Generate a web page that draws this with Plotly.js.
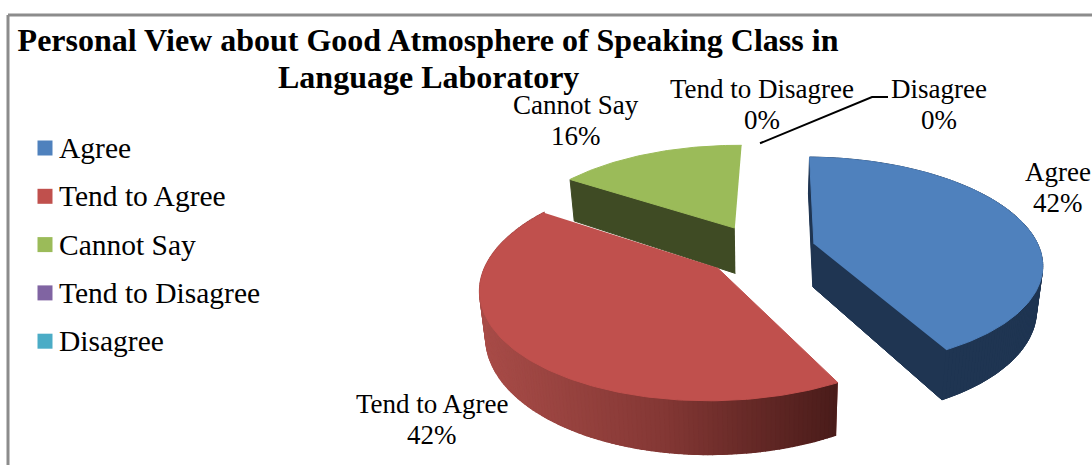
<!DOCTYPE html>
<html>
<head>
<meta charset="utf-8">
<script src="https://cdn.plot.ly/plotly-3.0.1.min.js"></script>
<style>html,body{margin:0;padding:0;background:#fff}#chart{width:1092px;height:465px}</style>
</head>
<body>
<div id="chart"></div>
<script>
// Survey responses, in percent
const categories = ["Agree", "Tend to Agree", "Cannot Say", "Tend to Disagree", "Disagree"];
const percents = [42, 42, 16, 0, 0];
const topColors = ["#4F81BD", "#C0504D", "#9BBB59", "#8064A2", "#4BACC6"];
const wallColors = ["#1F3552", "#8A3A37", "#3F4B24", "#33284A", "#1E4550"];
const wallDepths = [43, 43, 47, 43, 43];
const titleLines = ["Personal View about Good Atmosphere of Speaking Class in", "Language Laboratory"];

// Perspective pie geometry, in plot pixels
const cx = 760, horizonY = -360, baseY = 250, viewDist = 1330;
const radius = 226, explode = 56, floorShrink = 0.978, firstAngle = 1;
const serif = "Liberation Serif, Times New Roman, serif";

const rad = d => d * Math.PI / 180;

// Ground-plane point to screen; depth 0 is the top face, otherwise the floor of the wall
function project(gx, gy, depth) {
  const s = 1 / (1 - gy / viewDist);
  const shrink = depth ? floorShrink : 1;
  return [cx + gx * s * shrink, horizonY + (baseY - horizonY) * s + depth * s];
}
function sliceGeometry(a0, a1, wallDepth) {
  const mid = rad((a0 + a1) / 2);
  const ox = explode * Math.sin(mid), oy = -explode * Math.cos(mid);
  return {
    apex: floor => project(ox, oy, floor ? wallDepth : 0),
    rim: (deg, floor) => project(ox + radius * Math.sin(rad(deg)), oy - radius * Math.cos(rad(deg)), floor ? wallDepth : 0)
  };
}
function polyTrace(points, color, width) {
  return {
    type: "scatter", mode: "lines", x: points.map(p => p[0]), y: points.map(p => p[1]),
    fill: "toself", fillcolor: color, line: {color: color, width: width === undefined ? 1 : width},
    hoverinfo: "skip", showlegend: false
  };
}
function mix(a, b, t) {
  const c = i => Math.round(a[i] + (b[i] - a[i]) * t);
  return `rgb(${c(0)},${c(1)},${c(2)})`;
}

// Slice spans follow the percentages clockwise from the first angle
const spans = [];
let running = firstAngle;
percents.forEach(p => { spans.push([running, running + p * 3.6]); running += p * 3.6; });

function sliceTraces(i) {
  const [a0, a1] = spans[i];
  const g = sliceGeometry(a0, a1, wallDepths[i]);
  const out = [];
  const steps = Math.max(2, Math.round(a1 - a0));
  const angle = k => a0 + (a1 - a0) * k / steps;
  if (i === 1) {
    // The large front wall is shaded from left to right, over a solid base
    const base = [];
    for (let k = 0; k <= steps; k++) base.push(g.rim(angle(k), 0));
    for (let k = steps; k >= 0; k--) base.push(g.rim(angle(k), 1));
    out.push(polyTrace(base, wallColors[i]));
    for (let k = 0; k < steps; k++) {
      const p = g.rim(angle(k), 1), q = g.rim(angle(k + 1), 1);
      const t = Math.min(1, Math.max(0, ((p[0] + q[0]) / 2 - 487) / (834 - 487)));
      const col = t < 0.5 ? mix([168, 76, 72], [133, 56, 53], t * 2) : mix([133, 56, 53], [74, 28, 26], (t - 0.5) * 2);
      out.push(polyTrace([g.rim(angle(k), 0), g.rim(angle(k + 1), 0), q, p], col, 1.5));
    }
  } else if (i === 2) {
    // Only the cut face on the left shows for the back slice
    out.push(polyTrace([g.apex(0), g.rim(a0, 0), g.rim(a0, 1), g.apex(1)], wallColors[i]));
  } else {
    const wall = [];
    for (let k = 0; k <= steps; k++) wall.push(g.rim(angle(k), 1));
    wall.push(g.apex(1));
    out.push(polyTrace(wall, wallColors[i]));
    for (let k = 0; k < steps; k++) {
      out.push(polyTrace([g.rim(angle(k), 0), g.rim(angle(k + 1), 0), g.rim(angle(k + 1), 1), g.rim(angle(k), 1)], wallColors[i]));
    }
    [a0, a1].forEach(a => out.push(polyTrace([g.apex(0), g.rim(a, 0), g.rim(a, 1), g.apex(1)], wallColors[i])));
  }
  const top = [g.apex(0)];
  for (let k = 0; k <= steps; k++) top.push(g.rim(angle(k), 0));
  out.push(polyTrace(top, topColors[i]));
  return out;
}

const traces = [];
// Back slice first, the front slice overlaps its wall
[2, 0, 1].forEach(i => traces.push(...sliceTraces(i)));

// Leader line from the empty slices to the Disagree label
const leaderStart = sliceGeometry(360, 360, 0).rim(360, 0);
traces.push({
  type: "scatter", mode: "lines", x: [leaderStart[0], 872, 888], y: [leaderStart[1], 97, 97],
  line: {color: "#000", width: 2}, hoverinfo: "skip", showlegend: false
});

// Key on the left
const keyX = 45, keyTextX = 57, keyTop = 148, keyStep = 48.3;
traces.push({
  type: "scatter", mode: "markers", x: categories.map(() => keyX), y: categories.map((c, i) => keyTop + i * keyStep),
  marker: {symbol: "square", size: 15, color: topColors, line: {width: 0}}, hoverinfo: "skip", showlegend: false
});

const textNote = (x, y, text, size, anchor, weight) => ({
  x: x, y: y, xref: "x", yref: "y", text: text, showarrow: false,
  xanchor: anchor, yanchor: "middle", font: {family: serif, size: size, color: "#000", weight: weight || 400}
});

const keyNotes = categories.map((c, i) => textNote(keyTextX, keyTop + i * keyStep, c, 29.5, "left"));

// Data labels: name line and percentage line
const labelCenters = [[1058, 172], [432, 404], [576, 105], [762, 89], [939, 89]];
const labelLeading = 31;
const dataNotes = [];
categories.forEach((c, i) => {
  dataNotes.push(textNote(labelCenters[i][0], labelCenters[i][1], c, 27, "center"));
  dataNotes.push(textNote(labelCenters[i][0], labelCenters[i][1] + labelLeading, percents[i] + "%", 27, "center"));
});

const layout = {
  width: 1092, height: 465, margin: {l: 0, r: 0, t: 0, b: 0, pad: 0},
  paper_bgcolor: "#fff", plot_bgcolor: "#fff", showlegend: false,
  title: {text: titleLines[0], x: 428 / 1092, xanchor: "center", xref: "paper", y: 1 - 40 / 465, yanchor: "middle",
    font: {family: serif, size: 32, color: "#000", weight: 700}},
  xaxis: {range: [0, 1092], visible: false, fixedrange: true},
  yaxis: {range: [465, 0], visible: false, fixedrange: true},
  annotations: [textNote(428, 77, titleLines[1], 32, "center", 700)].concat(keyNotes, dataNotes),
  shapes: [
    {type: "line", xref: "x", yref: "y", x0: 8, y0: 15, x1: 1092, y1: 15, line: {color: "#8C8C8C", width: 3}},
    {type: "line", xref: "x", yref: "y", x0: 8, y0: 15, x1: 8, y1: 465, line: {color: "#8C8C8C", width: 3}}
  ]
};
Plotly.newPlot("chart", traces, layout, {displayModeBar: false, staticPlot: true});
</script>
</body>
</html>
